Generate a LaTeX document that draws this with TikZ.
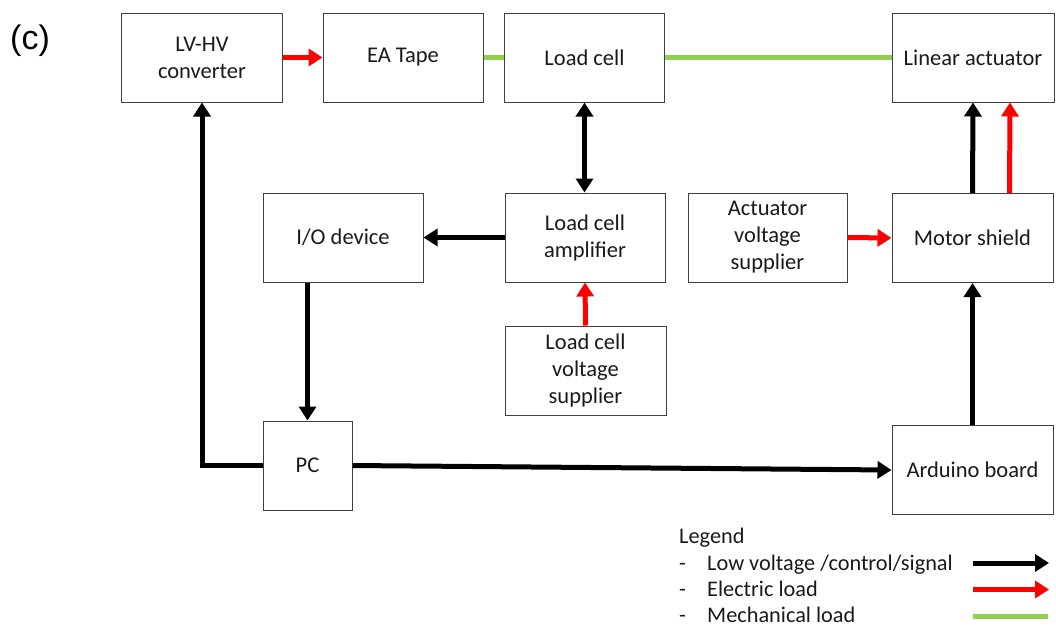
\documentclass[tikz,border=0pt]{standalone}
\usepackage{fontspec}
\setmainfont{Carlito}
\newfontfamily\labfont{Liberation Sans}
\usetikzlibrary{arrows.meta}
\definecolor{boxline}{HTML}{404040}
\definecolor{txt}{HTML}{1A1A1A}
\definecolor{elred}{HTML}{FF0000}
\definecolor{mechgreen}{HTML}{92D050}
\tikzset{
  blk/.style={draw=boxline, line width=1pt, fill=white, minimum width=161pt, minimum height=89pt,
    align=center, text=txt, font=\fontsize{22.5}{27}\selectfont, inner sep=2pt},
  sig/.style={line width=5pt, draw=black, -{Triangle[length=14pt,width=17pt]}},
  sigboth/.style={line width=5pt, draw=black, {Triangle[length=14pt,width=17pt]}-{Triangle[length=14pt,width=17pt]}},
  ele/.style={line width=5pt, draw=elred, -{Triangle[length=14pt,width=17pt]}},
  mech/.style={line width=5pt, draw=mechgreen},
  legtxt/.style={anchor=west, text=txt, font=\fontsize{22.3}{26}\selectfont, inner sep=0pt,
    text height=0.7em, text depth=0.2em}
}
\begin{document}
\begin{tikzpicture}[x=1pt,y=-1pt]
\useasboundingbox (0,0) rectangle (1056,629);
\node[font=\labfont\fontsize{34}{38}\selectfont, anchor=center] (lab) at (30,41) {(c)};

\node[blk] (lvhv) at (202,57.5) {LV-HV\\converter};
\node[blk, minimum width=160pt] (ea) at (403,57.5) {EA Tape};
\node[blk, minimum width=160pt] (lc) at (584.5,57.5) {Load cell};
\node[blk, minimum width=162pt] (la) at (973,57.5) {Linear actuator};
\node[blk, minimum width=160pt] (io) at (343,237.5) {I/O device};
\node[blk, minimum width=160pt] (amp) at (585,237.5) {Load cell\\amplifier};
\node[blk, minimum width=159pt] (avs) at (767.5,237.5) {Actuator\\voltage\\supplier};
\node[blk] (ms) at (972.5,238) {Motor shield};
\node[blk, minimum width=161pt] (lcvs) at (585.5,370.5) {Load cell\\voltage\\supplier};
\node[blk, minimum width=89pt] (pc) at (307.5,465.5) {PC};
\node[blk] (ard) at (972.5,470) {Arduino board};

% mechanical
\draw[mech] (ea.east) -- (lc.west);
\draw[mech] (lc.east) -- (la.west);
% electric
\draw[ele] (lvhv.east) -- (ea.west);
\draw[ele] (lcvs.north) -- (amp.south);
\draw[ele] (avs.east) -- (ms.west);
\draw[ele] ([xshift=37pt]ms.north) -- ([xshift=37pt]la.south);
% signal
\draw[sigboth] (lc.south) -- (lc.south |- amp.north);
\draw[sig] (amp.west) -- (io.east);
\draw[sig] (io.south -| pc.north) -- (pc.north);
\draw[sig] (ms.north) -- (la.south);
\draw[sig] (ard.north) -- (ms.south);
\draw[sig] (pc.east) -- (ard.west);
\draw[sig] (pc.west) -| (lvhv.south);

% legend
\node[legtxt] (leg) at (679,541) {Legend};
\node[legtxt] (d1) at (679,568) {-};
\node[legtxt] (d2) at (679,594) {-};
\node[legtxt] (d3) at (679,620) {-};
\node[legtxt] (l1) at (707,568) {Low voltage /control/signal};
\node[legtxt] (l2) at (707,594) {Electric load};
\node[legtxt] (l3) at (707,620) {Mechanical load};
\coordinate (a1s) at (973,563);
\coordinate (a1e) at (1049,563);
\coordinate (a2s) at (973,589.5);
\coordinate (a2e) at (1049,589.5);
\coordinate (a3s) at (973,616);
\coordinate (a3e) at (1048,616);
\draw[sig] (a1s) -- (a1e);
\draw[ele] (a2s) -- (a2e);
\draw[mech] (a3s) -- (a3e);
\end{tikzpicture}
\end{document}
